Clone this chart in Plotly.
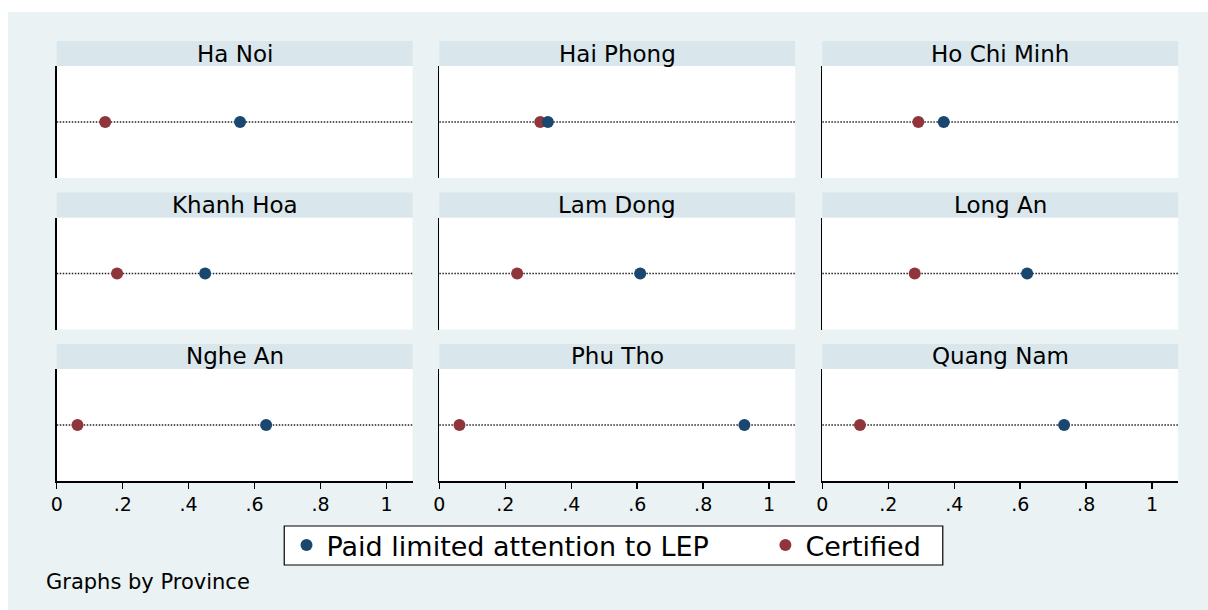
import plotly.graph_objects as go

# ---- data ----
provinces = ["Ha Noi", "Hai Phong", "Ho Chi Minh",
             "Khanh Hoa", "Lam Dong", "Long An",
             "Nghe An", "Phu Tho", "Quang Nam"]
paid_limited = [0.556, 0.329, 0.368, 0.450, 0.609, 0.621, 0.635, 0.925, 0.733]
certified = [0.147, 0.306, 0.291, 0.183, 0.236, 0.280, 0.063, 0.061, 0.114]
tick_vals = [0, 0.2, 0.4, 0.6, 0.8, 1]
tick_text = ["0", ".2", ".4", ".6", ".8", "1"]
series_names = ["Paid limited attention to LEP", "Certified"]
note_text = "Graphs by Province"

# ---- styling ----
W, H = 1208, 610
FONT = "DejaVu Sans"
BG = "#eaf2f3"
STRIP = "#d9e6eb"
BLUE = "#1a476f"
RED = "#90353b"

col_x0 = [57.7, 440.0, 822.7]
col_w = 355.5
row_plot_top = [66.0, 217.5, 369.0]
plot_h = 112.0
strip_h = 25.0

# horizontal placement correction (screen offset / scale observed in rendering)
X_SHIFT, X_SCALE = 7.0, 0.9942

def px_x(v):
    return ((v - X_SHIFT) / X_SCALE) / W

def px_y(v):
    return 1 - v / H

fig = go.Figure()
shapes = []
annotations = []

# white margin at top and left
shapes.append(dict(type="rect", xref="paper", yref="paper", x0=-0.01, x1=1.01,
                   y0=px_y(12), y1=1.01, fillcolor="white", line=dict(width=0), layer="below"))
shapes.append(dict(type="rect", xref="paper", yref="paper", x0=-0.01, x1=px_x(9),
                   y0=-0.01, y1=1.01, fillcolor="white", line=dict(width=0), layer="below"))
# legend frame
shapes.append(dict(type="rect", xref="paper", yref="paper", x0=px_x(285), x1=px_x(943),
                   y0=px_y(565), y1=px_y(526), fillcolor="white",
                   line=dict(color="black", width=1.2), layer="below"))

layout_axes = {}
for i, prov in enumerate(provinces):
    r, c = divmod(i, 3)
    n = i + 1
    xa = "x" if n == 1 else f"x{n}"
    ya = "y" if n == 1 else f"y{n}"
    xk = "xaxis" if n == 1 else f"xaxis{n}"
    yk = "yaxis" if n == 1 else f"yaxis{n}"
    x0 = col_x0[c]
    x1 = x0 + col_w
    top = row_plot_top[r]
    bot = top + plot_h
    bottom_row = (r == 2)
    layout_axes[xk] = dict(
        domain=[px_x(x0), px_x(x1)], anchor=ya, range=[0, 1.079],
        showgrid=False, zeroline=False,
        showline=bottom_row, linecolor="black", linewidth=1.5,
        ticks="outside" if bottom_row else "", ticklen=6, tickwidth=1.5, tickcolor="black",
        tickvals=tick_vals, ticktext=tick_text,
        showticklabels=bottom_row,
        tickfont=dict(family=FONT, size=19, color="black"),
        fixedrange=True,
    )
    layout_axes[yk] = dict(
        domain=[px_y(bot), px_y(top)], anchor=xa, range=[0, 2],
        showgrid=False, zeroline=False, showticklabels=False, ticks="",
        showline=True, linecolor="black", linewidth=1.5, fixedrange=True,
    )
    # strip with the province name
    shapes.append(dict(type="rect", xref="paper", yref="paper",
                       x0=px_x(x0), x1=px_x(x1), y0=px_y(top), y1=px_y(top - strip_h),
                       fillcolor=STRIP, line=dict(width=0), layer="below"))
    annotations.append(dict(xref="paper", yref="paper", x=px_x((x0 + x1) / 2),
                            y=px_y(top - strip_h / 2), text=prov, showarrow=False,
                            xanchor="center", yanchor="middle",
                            font=dict(family=FONT, size=23, color="black")))
    # dotted reference line across the panel
    shapes.append(dict(type="line", xref=f"{xa} domain", yref=ya, x0=0, x1=1, y0=1, y1=1,
                       line=dict(color="#222222", width=1.3, dash="1.5px,1.5px"), layer="below"))
    # points: certified first so paid sits on top
    fig.add_trace(go.Scatter(
        x=[certified[i]], y=[1], xaxis=xa, yaxis=ya, mode="markers",
        marker=dict(color=RED, size=12, line=dict(width=0)),
        name=series_names[1], legendgroup="cert", showlegend=(i == 0), legendrank=2,
        hoverinfo="skip"))
    fig.add_trace(go.Scatter(
        x=[paid_limited[i]], y=[1], xaxis=xa, yaxis=ya, mode="markers",
        marker=dict(color=BLUE, size=12, line=dict(width=0)),
        name=series_names[0] + "\u00a0" * 6, legendgroup="paid", showlegend=(i == 0),
        legendrank=1, hoverinfo="skip"))

annotations.append(dict(xref="paper", yref="paper", x=px_x(45), y=px_y(582),
                        text=note_text, showarrow=False, xanchor="left", yanchor="middle",
                        font=dict(family=FONT, size=21, color="black")))

fig.update_layout(
    width=W, height=H,
    margin=dict(l=0, r=0, t=0, b=0),
    paper_bgcolor=BG, plot_bgcolor="white",
    shapes=shapes, annotations=annotations,
    showlegend=True,
    legend=dict(orientation="h", x=px_x(607), xanchor="center",
                y=px_y(545.5), yanchor="middle",
                bgcolor="rgba(0,0,0,0)", borderwidth=0,
                font=dict(family=FONT, size=27, color="black"),
                itemsizing="constant", traceorder="normal"),
    **layout_axes,
)

fig.write_html(
    "out.html",
    config={"displayModeBar": False, "staticPlot": True},
    post_script=("document.body.style.margin='0px';"
                 "document.body.style.overflow='hidden';"
                 "document.body.style.background='" + BG + "';"),
)
